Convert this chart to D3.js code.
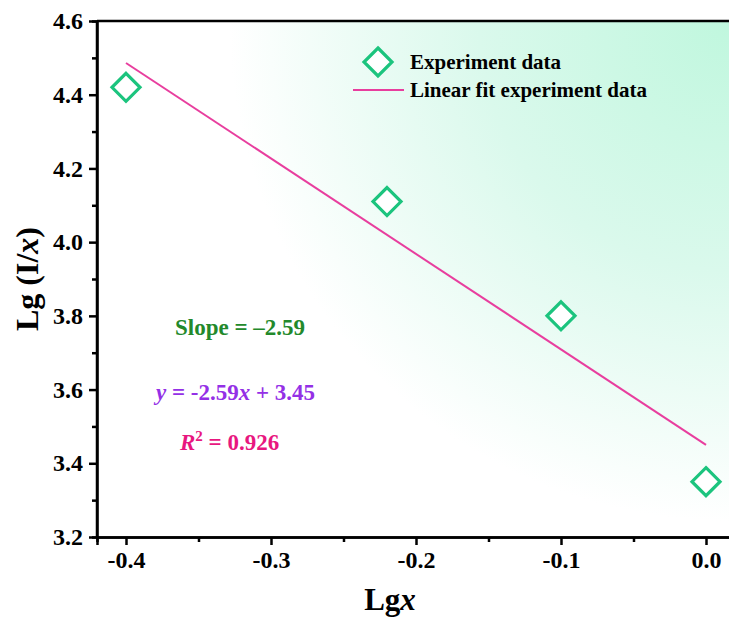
<!DOCTYPE html>
<html>
<head>
<meta charset="utf-8">
<script src="https://cdn.jsdelivr.net/npm/d3@7"></script>
<style>
  body { margin: 0; background: #fff; }
  text { font-family: "Liberation Serif", "Times New Roman", serif; font-weight: bold; }
</style>
</head>
<body>
<div id="canvas"></div>
<script>
// data
const lgx = [-0.4, -0.22, -0.1, 0.0];
const lgIx = [4.42, 4.11, 3.80, 3.35];
const fitSlope = -2.59;
const fitIntercept = 3.45;
const fitRange = [-0.4, 0.0];
const xTicks = [-0.4, -0.3, -0.2, -0.1, 0.0];
const yTicks = [3.2, 3.4, 3.6, 3.8, 4.0, 4.2, 4.4, 4.6];

const W = 729, H = 619;
const margin = {top: 21, right: -6, bottom: 82, left: 97};

let svg = d3.select("#canvas")
    .append("svg")
    .attr("width", W)
    .attr("height", H);

let x = d3.scaleLinear()
    .domain([-0.42, 0.02])
    .range([margin.left, W - margin.right]);
let y = d3.scaleLinear()
    .domain([3.2, 4.6])
    .range([H - margin.bottom, margin.top]);

// background gradient, mint in the top right corner
let defs = svg.append("defs");
let grad = defs.append("radialGradient")
    .attr("id", "bg")
    .attr("gradientUnits", "userSpaceOnUse")
    .attr("cx", W).attr("cy", margin.top)
    .attr("r", 500);
grad.append("stop").attr("offset", 0).attr("stop-color", "#c0f7de");
grad.append("stop").attr("offset", 0.5).attr("stop-color", "#daf9ec");
grad.append("stop").attr("offset", 1).attr("stop-color", "#ffffff");

svg.append("rect")
    .attr("x", x.range()[0])
    .attr("y", y.range()[1])
    .attr("width", x.range()[1] - x.range()[0])
    .attr("height", y.range()[0] - y.range()[1])
    .attr("fill", "url(#bg)");

// axes
let xAxis = svg.append("g")
    .attr("transform", "translate(0," + y.range()[0] + ")")
    .call(d3.axisBottom(x).tickValues(xTicks).tickFormat(d3.format(".1f")).tickSize(8).tickPadding(6));
svg.append("g")
    .attr("transform", "translate(0," + y.range()[0] + ")")
    .call(d3.axisBottom(x).tickValues([-0.35, -0.25, -0.15, -0.05]).tickFormat("").tickSize(5));

let yAxis = svg.append("g")
    .attr("transform", "translate(" + x.range()[0] + ",0)")
    .call(d3.axisLeft(y).tickValues(yTicks).tickFormat(d3.format(".1f")).tickSize(8).tickPadding(6));
svg.append("g")
    .attr("transform", "translate(" + x.range()[0] + ",0)")
    .call(d3.axisLeft(y).tickValues([3.3, 3.5, 3.7, 3.9, 4.1, 4.3, 4.5]).tickFormat("").tickSize(5));

svg.selectAll(".domain").attr("stroke", "#000").attr("stroke-width", 2.5);
svg.selectAll(".tick line").attr("stroke", "#000").attr("stroke-width", 2.5);
svg.selectAll(".tick text")
    .attr("fill", "#000")
    .style("font-size", "24px")
    .style("font-family", "'Liberation Serif', serif")
    .style("font-weight", "bold");
xAxis.selectAll(".tick text").text(d => d3.format(".1f")(d).replace("−", "-"));
yAxis.selectAll(".domain").attr("d", "M0," + y.range()[0] + "V" + y.range()[1]);

// top frame line
svg.append("line")
    .attr("x1", x.range()[0]).attr("x2", W)
    .attr("y1", y.range()[1]).attr("y2", y.range()[1])
    .attr("stroke", "#000").attr("stroke-width", 2.5);

// axis titles
let yt = svg.append("text")
    .attr("transform", "translate(38,279) rotate(-90)")
    .attr("text-anchor", "middle")
    .style("font-size", "32px");
yt.append("tspan").text("Lg (I/");
yt.append("tspan").attr("font-style", "italic").text("x");
yt.append("tspan").text(")");

let xt = svg.append("text")
    .attr("x", 390).attr("y", 610)
    .attr("text-anchor", "middle")
    .style("font-size", "31px");
xt.append("tspan").text("Lg");
xt.append("tspan").attr("font-style", "italic").text("x");

// fit line
svg.append("line")
    .attr("x1", x(fitRange[0])).attr("y1", y(fitSlope * fitRange[0] + fitIntercept))
    .attr("x2", x(fitRange[1])).attr("y2", y(fitSlope * fitRange[1] + fitIntercept))
    .attr("stroke", "#e83e9e")
    .attr("stroke-width", 2);

// data points
const diamond = r => "M0," + (-r) + "L" + r + ",0L0," + r + "L" + (-r) + ",0Z";
svg.selectAll(".pt")
    .data(lgx)
    .enter()
    .append("path")
    .attr("class", "pt")
    .attr("transform", (d, i) => "translate(" + x(d) + "," + y(lgIx[i]) + ")")
    .attr("d", diamond(14))
    .attr("fill", "#fff")
    .attr("stroke", "#1cc47e")
    .attr("stroke-width", 3.2);

// legend
svg.append("path")
    .attr("transform", "translate(378,62)")
    .attr("d", diamond(14))
    .attr("fill", "#fff")
    .attr("stroke", "#1cc47e")
    .attr("stroke-width", 3.2);
svg.append("text").attr("x", 410).attr("y", 69).style("font-size", "21px").text("Experiment data");
svg.append("line")
    .attr("x1", 353).attr("x2", 404).attr("y1", 90).attr("y2", 90)
    .attr("stroke", "#e83e9e").attr("stroke-width", 2);
svg.append("text").attr("x", 410).attr("y", 97).style("font-size", "21px").text("Linear fit experiment data");

// annotations
svg.append("text")
    .attr("x", 175).attr("y", 335)
    .attr("fill", "#23892b")
    .style("font-size", "23px")
    .text("Slope = \u20132.59");

let eq = svg.append("text")
    .attr("x", 156).attr("y", 400)
    .attr("fill", "#9430e6")
    .style("font-size", "23px");
eq.append("tspan").attr("font-style", "italic").text("y");
eq.append("tspan").text(" = -2.59");
eq.append("tspan").attr("font-style", "italic").text("x");
eq.append("tspan").text(" + 3.45");

let r2 = svg.append("text")
    .attr("x", 180).attr("y", 450)
    .attr("fill", "#e8177f")
    .style("font-size", "23px");
r2.append("tspan").attr("font-style", "italic").text("R");
r2.append("tspan").attr("dy", -9).style("font-size", "15px").text("2");
r2.append("tspan").attr("dy", 9).text(" = 0.926");
</script>
</body>
</html>
